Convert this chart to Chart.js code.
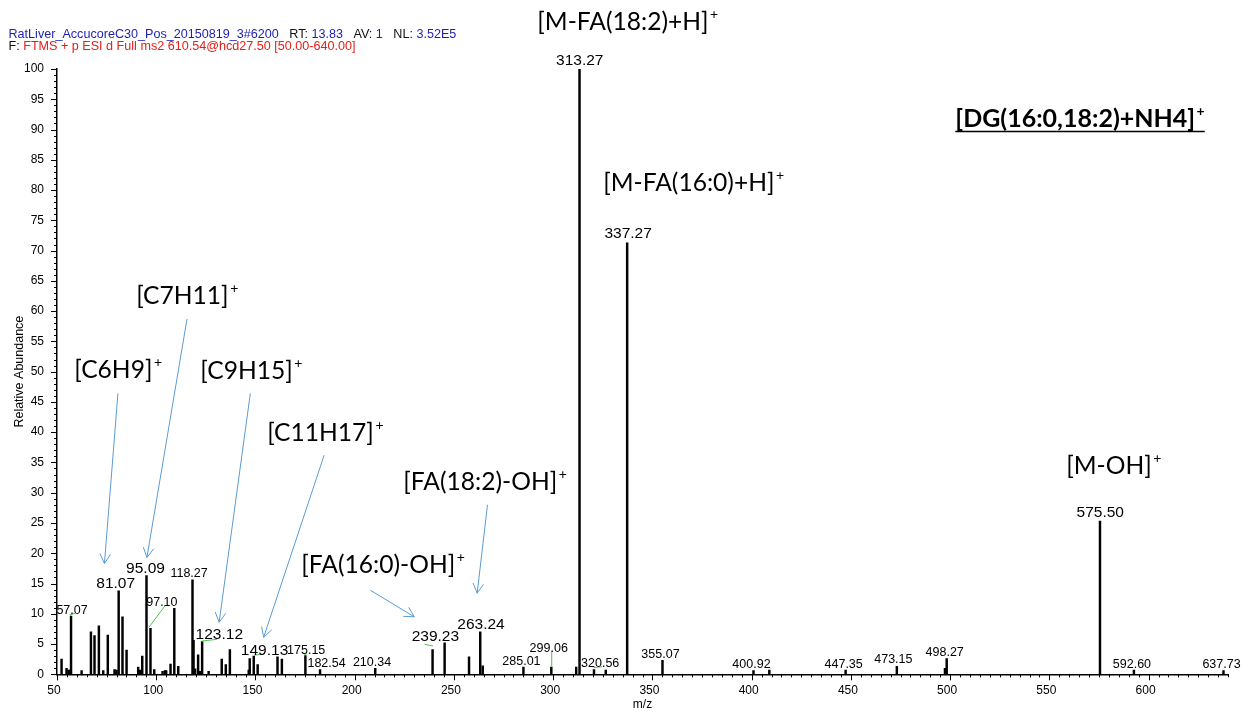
<!DOCTYPE html>
<html>
<head>
<meta charset="utf-8">
<title>DG(16:0,18:2)+NH4 MS2 spectrum</title>
<script src="https://cdn.jsdelivr.net/npm/chart.js@4.4.1/dist/chart.umd.min.js"></script>
<style>
  html, body { margin: 0; padding: 0; background: #fff; }
  #wrap { width: 1242px; height: 712px; }
</style>
</head>
<body>
<div id="wrap"><canvas id="spec" width="1242" height="712"></canvas></div>
<script>
// ---- spectrum: centroid m/z and relative abundance (%) ----
const mz = [
  52.3, 54.8, 55.8, 56.3, 57.07, 62.4, 67.1, 68.9, 71.1, 73.3,
  75.6, 79.0, 80.0, 81.07, 83.0, 85.05, 90.9, 91.9, 92.95, 95.09,
  97.10, 99.0, 103.2, 104.4, 105.0, 107.2, 109.1, 111.1, 118.27, 118.8,
  119.6, 121.1, 122.0, 123.12, 126.4, 133.0, 135.05, 137.1, 146.6, 147.1,
  149.13, 151.1, 161.1, 163.3, 175.15, 182.54, 210.34, 239.23, 245.3, 257.6,
  263.24, 264.5, 285.01, 299.06, 311.6, 313.27, 320.56, 326.5, 337.27, 355.07,
  400.92, 408.9, 447.35, 473.15, 497.4, 498.27, 575.50, 592.60, 637.73
];
const abundance = [
  2.5, 1.0, 0.7, 0.7, 9.6, 0.6, 7.0, 6.4, 8.0, 0.6,
  6.5, 0.8, 0.7, 13.8, 9.5, 4.0, 1.2, 0.7, 3.0, 16.3,
  7.6, 0.8, 0.5, 0.6, 0.6, 1.7, 10.9, 1.3, 15.6, 5.6,
  0.9, 3.2, 0.5, 5.4, 0.5, 2.5, 1.6, 4.1, 0.7, 2.6,
  3.0, 1.6, 2.9, 2.5, 3.1, 0.8, 1.0, 4.1, 5.2, 2.9,
  7.0, 1.4, 1.2, 1.2, 1.2, 100, 0.8, 0.7, 71.3, 2.3,
  0.6, 0.7, 0.7, 1.3, 1.0, 2.6, 25.3, 0.7, 0.6
];

// peaks that carry an m/z label, and the ones printed in the larger font
const labeledMz = [
  57.07, 81.07, 95.09, 97.10, 118.27, 123.12, 149.13, 175.15, 182.54, 210.34,
  239.23, 263.24, 285.01, 299.06, 313.27, 320.56, 337.27, 355.07, 400.92, 447.35,
  473.15, 498.27, 575.50, 592.60, 637.73
];
const largeLabelMz = [81.07, 95.09, 123.12, 149.13, 239.23, 263.24, 313.27, 337.27, 575.50];

// axis tick values
const xTickValues = [50, 100, 150, 200, 250, 300, 350, 400, 450, 500, 550, 600];
const yTickValues = [0, 5, 10, 15, 20, 25, 30, 35, 40, 45, 50, 55, 60, 65, 70, 75, 80, 85, 90, 95, 100];
const xRange = [50, 640];
const yRange = [0, 100];
const xMinorStep = 5;
const yMinorStep = 1;

// fragment assignments: text, left-baseline anchor in (m/z, %)
const ionNames = ['[C6H9]', '[C7H11]', '[C9H15]', '[C11H17]', '[FA(18:2)-OH]', '[FA(16:0)-OH]',
                  '[M-FA(18:2)+H]', '[M-FA(16:0)+H]', '[M-OH]'];
const ionTextAt = [[58.7, 49.0], [89.9, 61.2], [122.2, 48.8], [155.9, 38.6], [224.5, 30.4],
                   [173.1, 16.7], [292.0, 106.5], [325.2, 79.9], [558.5, 33.1]];
// arrows from the first six assignments down to their peaks, (m/z, %)
const ionArrowFrom = [[80.7, 46.4], [115.5, 58.7], [147.4, 46.4], [184.6, 36.2], [266.9, 28.0], [207.8, 13.9]];
const ionArrowTo   = [[73.9, 18.3], [95.3, 19.3], [131.7, 8.6], [154.1, 6.1], [261.7, 13.4], [230.0, 9.5]];
const precursorName = '[DG(16:0,18:2)+NH4]';
const precursorAt = [502.6, 90.5];

// ---- label placement tweaks (pixels, relative to the default spot above the peak) ----
const labelNudge = {
  '57.07': [3, 0], '81.07': [-1, 0], '95.09': [1, 0], '97.10': [13.4, -19.8],
  '118.27': [-1.4, 0], '123.12': [19.2, 0], '149.13': [12.8, 1.4], '175.15': [2.8, 1],
  '182.54': [8.5, 0], '210.34': [-1.2, 0], '239.23': [4.8, -6.3], '263.24': [2.8, -0.5],
  '299.06': [-0.6, -12.8], '313.27': [2.2, -1.8], '320.56': [8.2, 0], '337.27': [3, -2.5],
  '473.15': [-1.5, -1], '575.50': [2.3, -1.7]
};
// short green leader lines, [x1, y1, x2, y2] relative to the peak apex
const leaders = {
  '57.07': [-1.5, -1.2, 4.2, -2.9], '97.10': [-1.6, -1, 14.4, -22.3],
  '123.12': [0, -0.6, 15, -2.3], '149.13': [0, -1, 8.5, -1.8],
  '175.15': [-1, -1, 1.5, -1.8], '239.23': [-8, -5.2, 0.5, -3.5],
  '299.06': [0.4, -16.3, 0.4, -0.3], '320.56': [-0.5, -1.8, 8.2, -2.8]
};

const ARIAL = '"Liberation Sans", Arial, sans-serif';
const NOTE = 'Lato, "Open Sans", sans-serif';

// scan header above the plot
const headerPlugin = {
  id: 'scanHeader',
  afterDraw(chart) {
    const ctx = chart.ctx;
    const blue = '#1e1eb0', red = '#e3201b', black = '#111';
    const lines = [
      { y: 37.5, parts: [['RatLiver_AccucoreC30_Pos_20150819_3#6200', blue], ['   RT: ', black], ['13.83', blue],
                         ['   AV: ', black], ['1', blue], ['   NL: ', black], ['3.52E5', blue]] },
      { y: 50, parts: [['F: ', black], ['FTMS + p ESI d Full ms2 610.54@hcd27.50 [50.00-640.00]', red]] }
    ];
    ctx.save();
    ctx.font = '12.6px ' + ARIAL;
    ctx.textBaseline = 'alphabetic';
    ctx.textAlign = 'left';
    lines.forEach(l => {
      let cx = 8.5;
      l.parts.forEach(([t, c]) => { ctx.fillStyle = c; ctx.fillText(t, cx, l.y); cx += ctx.measureText(t).width; });
    });
    ctx.restore();
  }
};

// minor and major tick marks on both axes
const tickPlugin = {
  id: 'axisTicks',
  afterDraw(chart) {
    const { ctx, chartArea: a, scales: { x, y } } = chart;
    ctx.save();
    ctx.strokeStyle = '#000';
    ctx.lineWidth = 1;
    ctx.beginPath();
    for (let v = yRange[0]; v <= yRange[1] + 1e-9; v += yMinorStep) {
      const py = Math.round(y.getPixelForValue(v)) + 0.5;
      const len = yTickValues.includes(v) ? 6 : 3;
      ctx.moveTo(a.left - len, py); ctx.lineTo(a.left, py);
    }
    for (let v = xRange[0]; v <= xRange[1] + 1e-9; v += xMinorStep) {
      const px = Math.round(x.getPixelForValue(v)) + 0.5;
      const len = xTickValues.includes(v) ? 6 : 3;
      ctx.moveTo(px, a.bottom); ctx.lineTo(px, a.bottom + len);
    }
    ctx.stroke();
    ctx.restore();
  }
};

// m/z labels over the peaks, with leader lines where a label is moved aside
const peakLabelPlugin = {
  id: 'peakLabels',
  afterDatasetsDraw(chart) {
    const { ctx, scales: { x, y } } = chart;
    ctx.save();
    ctx.textAlign = 'center';
    ctx.textBaseline = 'alphabetic';
    labeledMz.forEach(m => {
      const i = mz.indexOf(m);
      const px = x.getPixelForValue(m), py = y.getPixelForValue(abundance[i]);
      const key = m.toFixed(2);
      const [dx, dy] = labelNudge[key] || [0, 0];
      const ld = leaders[key];
      if (ld) {
        ctx.strokeStyle = '#4fc34f';
        ctx.lineWidth = 1;
        ctx.beginPath();
        ctx.moveTo(px + ld[0], py + ld[1]);
        ctx.lineTo(px + ld[2], py + ld[3]);
        ctx.stroke();
      }
      ctx.font = (largeLabelMz.includes(m) ? 15.5 : 12.5) + 'px ' + ARIAL;
      ctx.fillStyle = '#000';
      ctx.fillText(key, px - 2 + dx, py - 2.5 + dy);
    });
    ctx.restore();
  }
};

// fragment assignments with blue arrows
const ionPlugin = {
  id: 'ionNotes',
  afterDatasetsDraw(chart) {
    const { ctx, scales: { x, y } } = chart;
    ctx.save();
    ctx.strokeStyle = '#5b9bd5';
    ctx.lineWidth = 1;
    ionArrowFrom.forEach((f, i) => {
      const t = ionArrowTo[i];
      const x1 = x.getPixelForValue(f[0]), y1 = y.getPixelForValue(f[1]);
      const x2 = x.getPixelForValue(t[0]), y2 = y.getPixelForValue(t[1]);
      const ang = Math.atan2(y2 - y1, x2 - x1), L = 11, w = 0.5;
      ctx.beginPath();
      ctx.moveTo(x1, y1); ctx.lineTo(x2, y2);
      ctx.moveTo(x2 - L * Math.cos(ang - w), y2 - L * Math.sin(ang - w));
      ctx.lineTo(x2, y2);
      ctx.lineTo(x2 - L * Math.cos(ang + w), y2 - L * Math.sin(ang + w));
      ctx.stroke();
    });
    ctx.fillStyle = '#000';
    ctx.textAlign = 'left';
    ctx.textBaseline = 'alphabetic';
    const drawIon = (name, at, bold) => {
      const px = x.getPixelForValue(at[0]), py = y.getPixelForValue(at[1]);
      ctx.font = (bold ? 'bold 25px ' : '24.6px ') + NOTE;
      ctx.fillText(name, px, py);
      const w = ctx.measureText(name).width;
      ctx.font = (bold ? 'bold 14px ' : '14px ') + NOTE;
      ctx.fillText('+', px + w + 1.5, py - 11);
      return px + w + 1.5 + ctx.measureText('+').width;
    };
    ionNames.forEach((n, i) => drawIon(n, ionTextAt[i], false));
    const end = drawIon(precursorName, precursorAt, true);
    const ux = x.getPixelForValue(precursorAt[0]), uy = y.getPixelForValue(precursorAt[1]) + 5;
    ctx.strokeStyle = '#000';
    ctx.lineWidth = 1.5;
    ctx.beginPath(); ctx.moveTo(ux, uy); ctx.lineTo(end, uy); ctx.stroke();
    ctx.restore();
  }
};

new Chart(document.getElementById('spec'), {
  type: 'bar',
  data: {
    datasets: [{
      data: mz.map((m, i) => ({ x: m, y: abundance[i] })),
      backgroundColor: '#000',
      borderWidth: 0,
      barThickness: 1.8
    }]
  },
  options: {
    responsive: false,
    animation: false,
    devicePixelRatio: 1,
    layout: { padding: { left: 0, right: 14, top: 69, bottom: 0 } },
    plugins: { legend: { display: false }, tooltip: { enabled: false } },
    scales: {
      x: {
        type: 'linear',
        min: xRange[0], max: xRange[1],
        offset: false,
        grid: { display: false, drawTicks: false },
        border: { display: true, color: '#000', width: 1.5 },
        afterBuildTicks: s => { s.ticks = xTickValues.map(v => ({ value: v })); },
        ticks: { autoSkip: false, maxRotation: 0, padding: 9, labelOffset: -3,
                 color: '#000', font: { family: ARIAL, size: 12 } },
        title: { display: true, text: 'm/z', color: '#000', font: { family: ARIAL, size: 12 },
                 padding: { top: 0, bottom: 0 } },
        afterFit: s => { s.height = 37.7; }
      },
      y: {
        min: yRange[0], max: yRange[1],
        grid: { display: false, drawTicks: false },
        border: { display: true, color: '#000', width: 1.5 },
        afterBuildTicks: s => { s.ticks = yTickValues.map(v => ({ value: v })); },
        ticks: { autoSkip: false, padding: 13, color: '#000', font: { family: ARIAL, size: 12 } },
        title: { display: true, text: 'Relative Abundance', color: '#000', font: { family: ARIAL, size: 12.5 },
                 padding: { top: 12, bottom: 0 } },
        afterFit: s => { s.width = 57; }
      }
    }
  },
  plugins: [tickPlugin, peakLabelPlugin, ionPlugin, headerPlugin]
});
</script>
</body>
</html>
